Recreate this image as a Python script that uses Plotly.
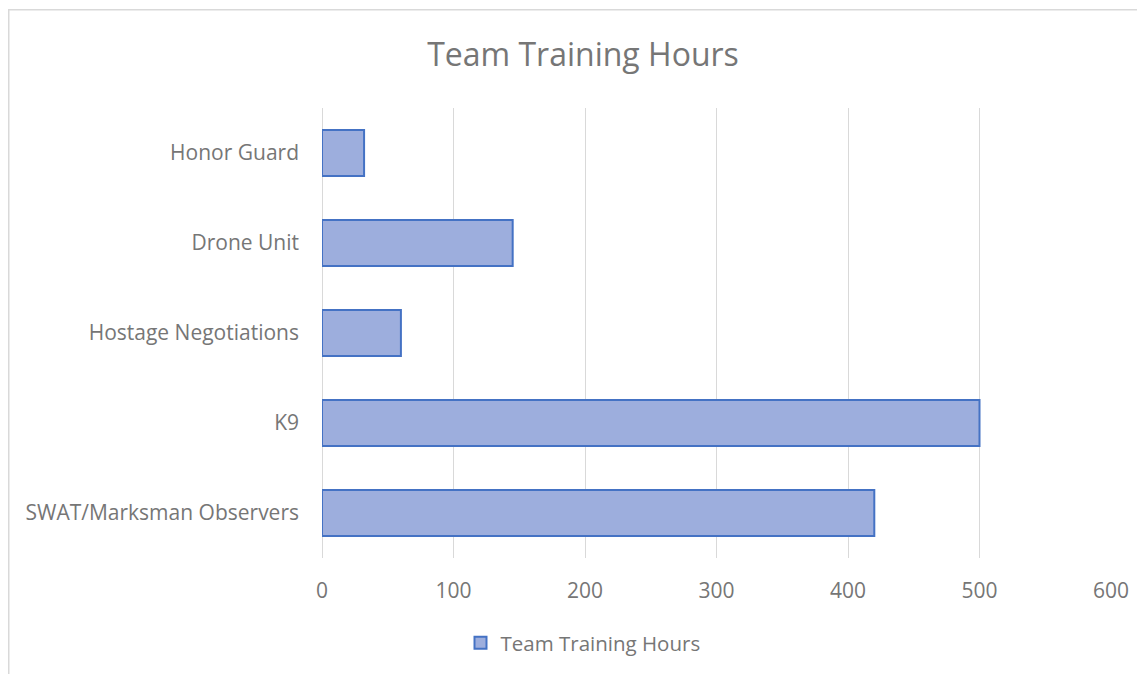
import plotly.graph_objects as go

categories = ["SWAT/Marksman Observers", "K9", "Hostage Negotiations", "Drone Unit", "Honor Guard"]
hours = [420, 500, 60, 145, 32]
series_name = "Team Training Hours"
x_ticks = [0, 100, 200, 300, 400, 500, 600]

# figure coordinates (page adds 8px body margin)
W, H = 1137, 666
L, R, T, B = 314, 1103, 100, 550
TXT = "#767676"

fig = go.Figure()
fig.add_trace(go.Bar(
    y=categories, x=hours, orientation="h", name=series_name,
    marker=dict(color="#9DAEDD", line=dict(color="#4472C4", width=2)),
    showlegend=True,
))

def px_to_paper_x(px):
    return (px - L) / (R - L)

def px_to_paper_y(py):
    return (B - py) / (B - T)

fig.add_shape(type="rect", xref="paper", yref="paper",
              x0=px_to_paper_x(0.75), x1=px_to_paper_x(1200),
              y0=px_to_paper_y(720), y1=px_to_paper_y(1.75),
              line=dict(color="#D9D9D9", width=1.5), fillcolor="rgba(0,0,0,0)", layer="below")

fig.update_layout(
    width=W, height=H,
    margin=dict(l=L, r=W - R, t=T, b=H - B),
    paper_bgcolor="white", plot_bgcolor="white",
    font=dict(family="Open Sans, sans-serif", color=TXT, size=21),
    title=dict(text="Team Training Hours", x=575 / W, xanchor="center",
               y=1 - 47 / H, yanchor="middle", font=dict(size=32, color=TXT)),
    bargap=0.49,
    xaxis=dict(range=[0, 600], tickvals=x_ticks, showgrid=True, gridcolor="#D9D9D9",
               gridwidth=1.3, zeroline=True, zerolinecolor="#D9D9D9", zerolinewidth=1.3,
               showline=False, ticks="",
               ticklabelstandoff=18, tickfont=dict(size=21, color=TXT)),
    yaxis=dict(categoryorder="array", categoryarray=categories, showgrid=False,
               zeroline=False, showline=False, ticks="", ticklabelstandoff=22,
               tickfont=dict(size=21, color=TXT)),
    legend=dict(orientation="h", x=575 / W, xanchor="center", xref="container",
                y=1 - 635 / H, yanchor="middle", yref="container",
                font=dict(size=20.5, color=TXT)),
)

fig.write_html("out.html")
